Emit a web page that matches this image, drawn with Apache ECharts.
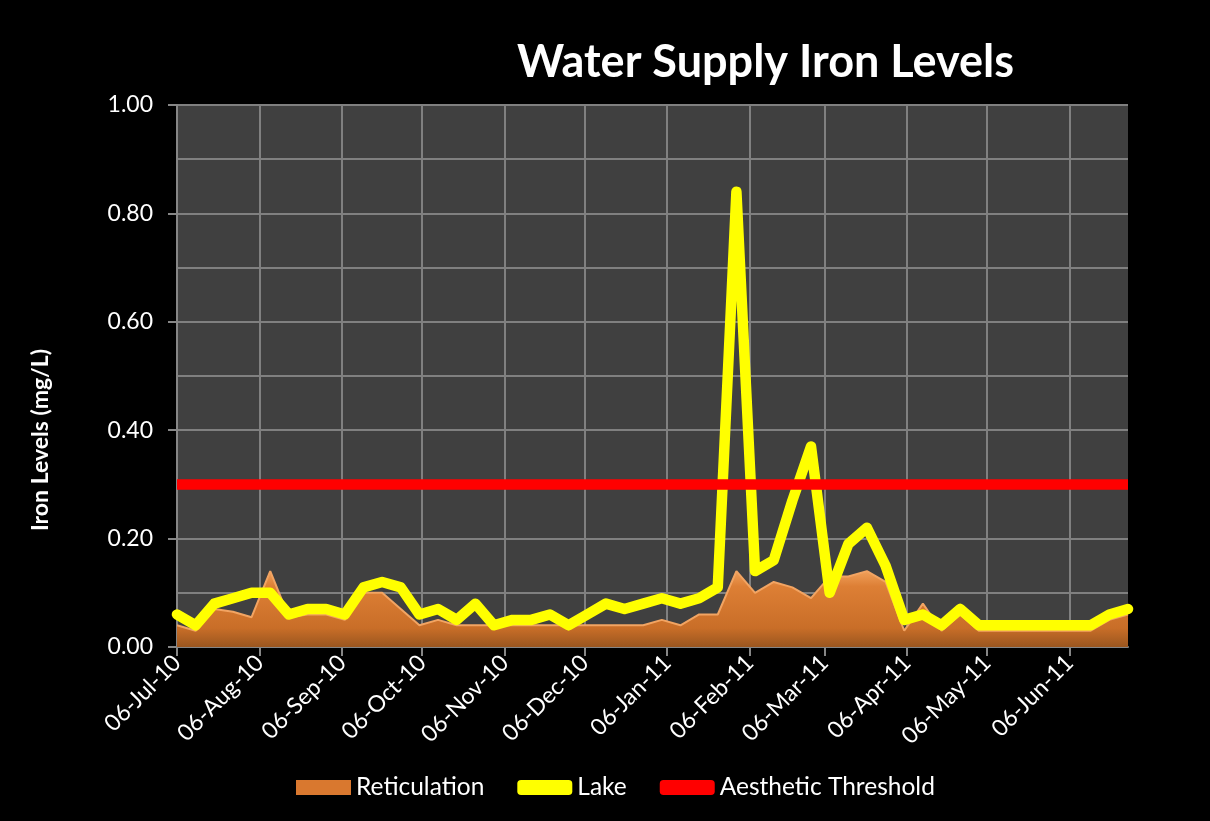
<!DOCTYPE html>
<html>
<head>
<meta charset="utf-8">
<title>Water Supply Iron Levels</title>
<script src="https://cdn.jsdelivr.net/npm/echarts@6/dist/echarts.min.js"></script>
<style>
html, body { margin: 0; padding: 0; background: #000; }
#main { width: 1210px; height: 821px; }
</style>
</head>
<body>
<div id="main"></div>
<script>
// weekly sampling dates
var sampleDates = [
  '2010-07-06', '2010-07-13', '2010-07-20', '2010-07-27',
  '2010-08-03', '2010-08-10', '2010-08-17', '2010-08-24', '2010-08-31',
  '2010-09-07', '2010-09-14', '2010-09-21', '2010-09-28',
  '2010-10-05', '2010-10-12', '2010-10-19', '2010-10-26',
  '2010-11-02', '2010-11-09', '2010-11-16', '2010-11-23', '2010-11-30',
  '2010-12-07', '2010-12-14', '2010-12-21', '2010-12-28',
  '2011-01-04', '2011-01-11', '2011-01-18', '2011-01-25',
  '2011-02-01', '2011-02-08', '2011-02-15', '2011-02-22',
  '2011-03-01', '2011-03-08', '2011-03-15', '2011-03-22', '2011-03-29',
  '2011-04-05', '2011-04-12', '2011-04-19', '2011-04-26',
  '2011-05-03', '2011-05-10', '2011-05-17', '2011-05-24', '2011-05-31',
  '2011-06-07', '2011-06-14', '2011-06-21', '2011-06-28'
];
// iron levels mg/L
var reticulation = [
  0.04, 0.03, 0.07, 0.065,
  0.055, 0.14, 0.055, 0.06, 0.06,
  0.05, 0.10, 0.10, 0.07,
  0.04, 0.05, 0.04, 0.04,
  0.04, 0.04, 0.04, 0.04, 0.04,
  0.04, 0.04, 0.04, 0.04,
  0.05, 0.04, 0.06, 0.06,
  0.14, 0.10, 0.12, 0.11,
  0.09, 0.13, 0.13, 0.14, 0.12,
  0.03, 0.08, 0.03, 0.06,
  0.03, 0.03, 0.03, 0.03, 0.03,
  0.03, 0.03, 0.05, 0.06
];
var lake = [
  0.06, 0.04, 0.08, 0.09,
  0.10, 0.10, 0.06, 0.07, 0.07,
  0.06, 0.11, 0.12, 0.11,
  0.06, 0.07, 0.05, 0.08,
  0.04, 0.05, 0.05, 0.06, 0.04,
  0.06, 0.08, 0.07, 0.08,
  0.09, 0.08, 0.09, 0.11,
  0.84, 0.14, 0.16, 0.27,
  0.37, 0.10, 0.19, 0.22, 0.15,
  0.05, 0.06, 0.04, 0.07,
  0.04, 0.04, 0.04, 0.04, 0.04,
  0.04, 0.04, 0.06, 0.07
];
var threshold = 0.3; // aesthetic threshold
var axisStart = '2010-07-06';
var axisEnd = '2011-06-28';

var MONTHS = ['Jan','Feb','Mar','Apr','May','Jun','Jul','Aug','Sep','Oct','Nov','Dec'];
function dayNum(s) {
  var p = s.split('-');
  return Math.round(Date.UTC(+p[0], +p[1] - 1, +p[2]) / 86400000);
}
function fmt(d) {
  var dt = new Date(d * 86400000);
  var dd = dt.getUTCDate();
  return (dd < 10 ? '0' + dd : '' + dd) + '-' + MONTHS[dt.getUTCMonth()] + '-' + String(dt.getUTCFullYear()).slice(2);
}
var d0 = dayNum(axisStart), d1 = dayNum(axisEnd);
var days = [];
for (var d = d0; d <= d1; d++) days.push(fmt(d));

function toPoints(vals) {
  return sampleDates.map(function (s, i) { return [dayNum(s) - d0, vals[i]]; });
}
// monthly ticks on the 6th
function onSixth(i, v) { return v.slice(0, 2) === '06'; }

var chart = echarts.init(document.getElementById('main'));
var font = 'Lato, "Open Sans", sans-serif';
var option = {
  backgroundColor: '#000',
  animation: false,
  title: {
    text: 'Water Supply Iron Levels',
    left: 512,
    top: 35,
    textStyle: { color: '#fff', fontSize: 45, fontWeight: 'bold', fontFamily: font }
  },
  graphic: [{
    type: 'text',
    x: 41,
    y: 440,
    rotation: Math.PI / 2,
    style: {
      text: 'Iron Levels (mg/L)',
      fill: '#fff',
      font: 'bold 23px ' + font,
      textAlign: 'center',
      textVerticalAlign: 'middle'
    }
  }],
  legend: {
    left: 291,
    top: 770,
    itemWidth: 55,
    itemHeight: 15,
    itemGap: 33,
    textStyle: { color: '#fff', fontSize: 24.5, fontFamily: font },
    data: [
      { name: 'Reticulation', icon: 'rect' },
      { name: 'Lake', icon: 'roundRect' },
      { name: 'Aesthetic Threshold', icon: 'roundRect' }
    ]
  },
  grid: {
    left: 177, right: 82, top: 105, bottom: 174,
    show: true, backgroundColor: '#404040', borderWidth: 0
  },
  xAxis: {
    type: 'category',
    data: days,
    boundaryGap: false,
    axisLine: { lineStyle: { color: '#868686', width: 2 } },
    axisTick: { interval: onSixth, length: 9, lineStyle: { color: '#868686', width: 2 } },
    axisLabel: { interval: onSixth, rotate: 45, color: '#fff', fontSize: 23, fontFamily: font, margin: 12 },
    splitLine: { show: true, interval: onSixth, lineStyle: { color: '#808080', width: 2 } }
  },
  yAxis: {
    type: 'value',
    min: 0, max: 1, interval: 0.2,
    axisLine: { show: true, lineStyle: { color: '#868686', width: 2 } },
    axisTick: { show: true, length: 9, lineStyle: { color: '#868686', width: 2 } },
    axisLabel: { color: '#fff', fontSize: 23, fontFamily: font, margin: 24,
      formatter: function (v) { return v.toFixed(2); } },
    splitLine: { lineStyle: { color: '#808080', width: 2 } },
    minorTick: { show: false, splitNumber: 2 },
    minorSplitLine: { show: true, lineStyle: { color: '#808080', width: 2 } }
  },
  series: [
    {
      name: 'Reticulation',
      type: 'line',
      data: toPoints(reticulation),
      symbol: 'none',
      itemStyle: { color: '#D9782F' },
      lineStyle: { color: '#F2A462', width: 2 },
      areaStyle: {
        opacity: 1,
        color: new echarts.graphic.LinearGradient(0, 0, 0, 1, [
          { offset: 0, color: '#F0A05A' },
          { offset: 0.2, color: '#DD7F35' },
          { offset: 0.75, color: '#C96E28' },
          { offset: 1, color: '#9A561F' }
        ])
      },
      z: 2
    },
    {
      name: 'Lake',
      type: 'line',
      data: toPoints(lake),
      symbol: 'none',
      itemStyle: { color: '#FFFF00' },
      lineStyle: { color: '#FFFF00', width: 10.5, join: 'round', cap: 'round' },
      z: 3
    },
    {
      name: 'Aesthetic Threshold',
      type: 'line',
      data: [[0, threshold], [days.length - 1, threshold]],
      symbol: 'none',
      itemStyle: { color: '#FF0000' },
      lineStyle: { color: '#FF0000', width: 10.5 },
      z: 4
    }
  ]
};
chart.setOption(option);
</script>
</body>
</html>
